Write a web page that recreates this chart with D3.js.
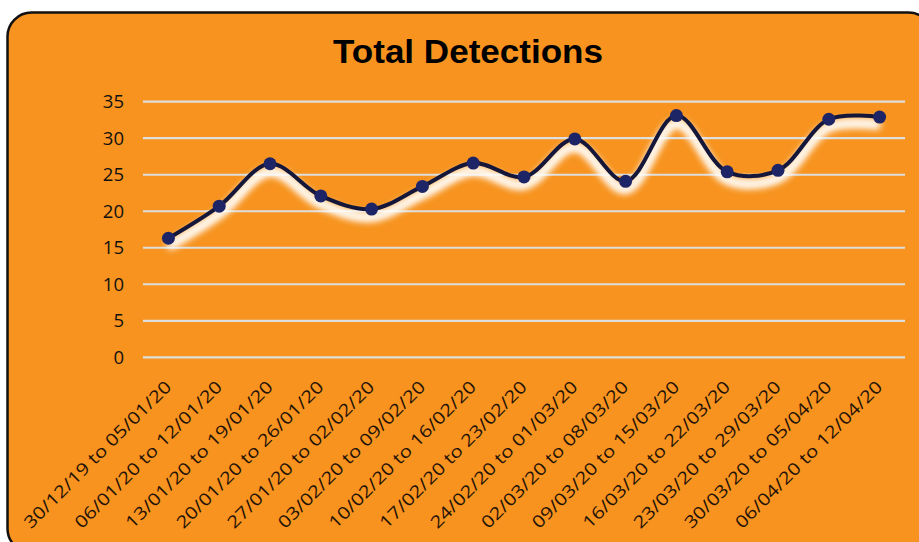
<!DOCTYPE html>
<html><head><meta charset="utf-8">
<script src="https://cdn.jsdelivr.net/npm/d3@7"></script>
<style>body{margin:0;background:#fff;}svg{display:block;}</style>
</head><body>
<svg id="c" width="919" height="542"></svg>
<script>
const categories = ["30/12/19 to 05/01/20","06/01/20 to 12/01/20","13/01/20 to 19/01/20","20/01/20 to 26/01/20","27/01/20 to 02/02/20","03/02/20 to 09/02/20","10/02/20 to 16/02/20","17/02/20 to 23/02/20","24/02/20 to 01/03/20","02/03/20 to 08/03/20","09/03/20 to 15/03/20","16/03/20 to 22/03/20","23/03/20 to 29/03/20","30/03/20 to 05/04/20","06/04/20 to 12/04/20"];
const detections = [16.3,20.7,26.5,22.1,20.3,23.4,26.6,24.7,29.9,24.1,33.1,25.4,25.6,32.6,32.9];
const yTicks = [0,5,10,15,20,25,30,35];
const title = "Total Detections";

const svg = d3.select("#c");
const defs = svg.append("defs");
const f = defs.append("filter").attr("id","glow").attr("x","-10%").attr("y","-50%").attr("width","120%").attr("height","200%");
f.append("feGaussianBlur").attr("stdDeviation",3.5);

svg.append("rect").attr("x",7.5).attr("y",12.5).attr("width",925).attr("height",540).attr("rx",24)
  .attr("fill","#F7931E").attr("stroke","#111").attr("stroke-width",2.5);

svg.append("text").attr("x",468).attr("y",63).attr("text-anchor","middle")
  .attr("font-family","Liberation Sans, Arial, sans-serif").attr("font-weight","bold").attr("font-size",34)
  .attr("fill","#000").attr("textLength",270).attr("lengthAdjust","spacingAndGlyphs").text(title);

const x = d3.scalePoint().domain(categories).range([143,905]).padding(0.5);
const y = d3.scaleLinear().domain([0,35]).range([357.3,101.7]);

// gridlines
svg.append("g").selectAll("line").data(yTicks).join("line")
  .attr("x1",143).attr("x2",905).attr("y1",d=>y(d)).attr("y2",d=>y(d))
  .attr("stroke","#dedede").attr("stroke-width",2.2);

// y labels
svg.append("g").selectAll("text").data(yTicks).join("text")
  .attr("x",124).attr("y",d=>y(d)+6.5).attr("text-anchor","end")
  .attr("font-family","Open Sans, sans-serif").attr("font-size",18.5).attr("fill","#111")
  .text(d=>d);

// x labels
svg.append("g").selectAll("text").data(categories).join("text")
  .attr("transform",d=>`translate(${x(d)+4},${388}) rotate(-45)`)
  .attr("text-anchor","end")
  .attr("font-family","Open Sans, sans-serif").attr("font-size",17).attr("fill","#1f1208")
  .attr("textLength",200).attr("lengthAdjust","spacingAndGlyphs")
  .text(d=>d);

const line = d3.line().x((d,i)=>x(categories[i])).y(d=>y(d)).curve(d3.curveCatmullRom.alpha(0.5));

// glow shadow
svg.append("path").datum(detections).attr("d",line).attr("transform","translate(0,8)")
  .attr("fill","none").attr("stroke","#fff").attr("stroke-width",9).attr("filter","url(#glow)");
svg.append("path").datum(detections).attr("d",line).attr("transform","translate(0,7)")
  .attr("fill","none").attr("stroke","#fffdf5").attr("stroke-width",4).attr("filter","url(#glow)").attr("opacity",0.9);

svg.append("path").datum(detections).attr("d",line)
  .attr("fill","none").attr("stroke","#15173a").attr("stroke-width",4).attr("stroke-linecap","round");

svg.append("g").selectAll("circle").data(detections).join("circle")
  .attr("cx",(d,i)=>x(categories[i])).attr("cy",d=>y(d)).attr("r",6.5)
  .attr("fill","#1e2566");
</script>
</body></html>
